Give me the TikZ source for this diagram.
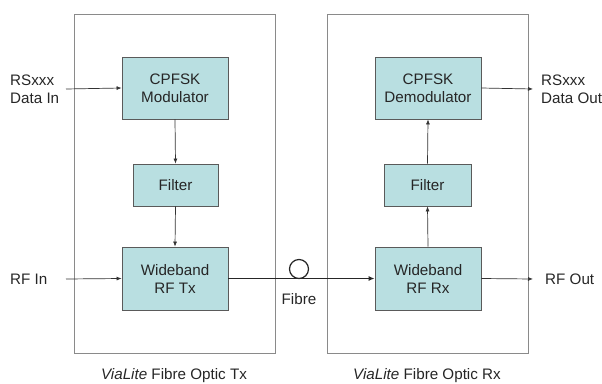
\documentclass[tikz,border=0pt]{standalone}
\usepackage{fontspec}
\setmainfont{Liberation Sans}
\usetikzlibrary{arrows.meta}
\definecolor{boxfill}{HTML}{B9DFE1}
\definecolor{boxline}{HTML}{5A5A5A}
\definecolor{outline}{HTML}{8A8A8A}
\begin{document}
\begin{tikzpicture}[x=1pt,y=-1pt,
  every node/.style={font=\fontsize{15.2}{18}\selectfont, text=black!85},
  block/.style={draw=boxline, fill=boxfill, line width=0.8pt, align=center, inner sep=0pt},
  frame/.style={draw=outline, line width=0.9pt},
  lbl/.style={align=left, anchor=west, inner sep=0pt},
  sig/.style={draw=black!80, line width=0.7pt, -{Latex[length=5pt,width=4pt]}},
  fib/.style={draw=black!85, line width=1.6pt, -{Latex[length=6pt,width=5pt]}}
]
\useasboundingbox (0,0) rectangle (602,383);
% frames
\draw[frame] (74,14) rectangle (275,353);
\draw[frame] (327,14) rectangle (528,353);
% blocks
\node[block, minimum width=106pt, minimum height=62pt] (mod) at (175,88) {CPFSK\\Modulator};
\node[block, minimum width=85pt, minimum height=42pt] (filt1) at (175.5,185) {Filter};
\node[block, minimum width=106pt, minimum height=63pt] (tx) at (175,278.5) {Wideband\\RF Tx};
\node[block, minimum width=106pt, minimum height=62pt] (demod) at (428,88) {CPFSK\\Demodulator};
\node[block, minimum width=87pt, minimum height=42pt] (filt2) at (427.5,185) {Filter};
\node[block, minimum width=106pt, minimum height=63pt] (rx) at (428,278.5) {Wideband\\RF Rx};
% external labels
\node[lbl] (datain) at (10,89) {RSxxx\\Data In};
\node[lbl] (rfin) at (10,279) {RF In};
\node[lbl] (dataout) at (541,89) {RSxxx\\Data Out};
\node[lbl] (rfout) at (545,279) {RF Out};
\coordinate (din) at (66,89);
\coordinate (rin) at (66,279);
\coordinate (dout) at (533,89);
\coordinate (rout) at (533,279);
% connectors
\draw[sig] (din) -- (mod.west);
\draw[sig] (rin) -- (tx.west);
\draw[sig] (mod.south) -- (filt1.north);
\draw[sig] (filt1.south) -- (tx.north);
\draw[sig] (rx.north) -- (filt2.south);
\draw[sig] (filt2.north) -- (demod.south);
\draw[sig] (demod.east) -- (dout);
\draw[sig] (rx.east) -- (rout);
% fibre
\draw[fib] (tx.east) -- (rx.west);
\node[draw=black!85, line width=1.2pt, circle, minimum size=19pt, inner sep=0pt] (loop) at (299,269) {};
\node (fibre) at (299,299) {Fibre};
% captions
\node (captx) at (174,376) {\textit{ViaLite} Fibre Optic Tx};
\node (caprx) at (427,376) {\textit{ViaLite} Fibre Optic Rx};
\end{tikzpicture}
\end{document}
